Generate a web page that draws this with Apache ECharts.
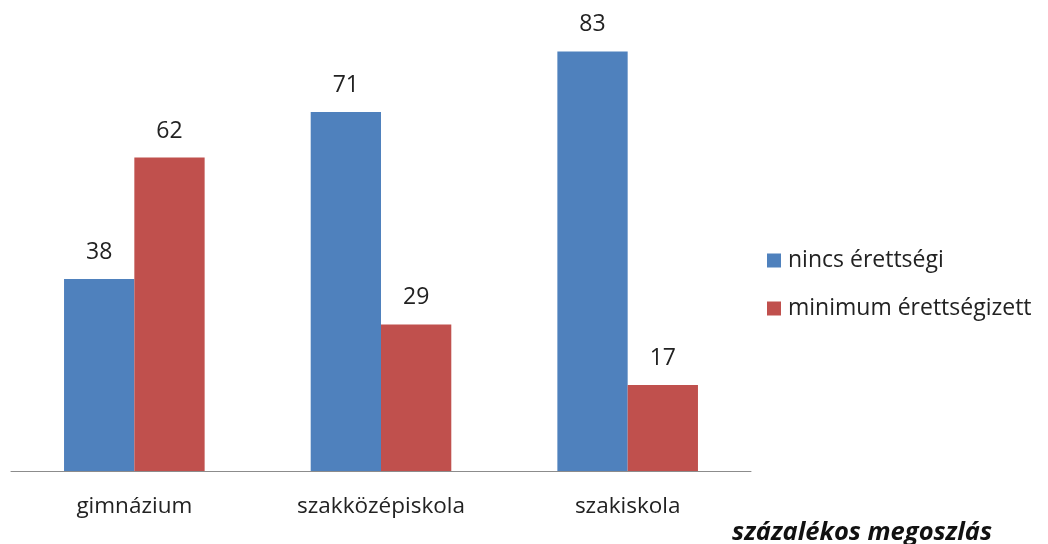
<!DOCTYPE html>
<html>
<head>
<meta charset="utf-8">
<script src="https://cdn.jsdelivr.net/npm/echarts@6.0.0/dist/echarts.min.js"></script>
<style>
  html, body { margin: 0; padding: 0; background: #fff; }
  #chart { width: 1048px; height: 544px; }
</style>
</head>
<body>
<div id="chart"></div>
<script>
const categories = ['gimnázium', 'szakközépiskola', 'szakiskola']
const nincsErettsegi = [38, 71, 83]
const minimumErettsegizett = [62, 29, 17]

const font = '"Open Sans", "Noto Sans", sans-serif'

const chart = echarts.init(document.getElementById('chart'))

const labelStyle = {
  show: true,
  position: 'top',
  distance: 15,
  fontSize: 23,
  fontFamily: font,
  color: '#222',
}

chart.setOption({
  animation: false,
  title: {
    text: 'százalékos megoszlás',
    right: 51,
    bottom: -7,
    textStyle: {
      fontSize: 25.5,
      fontStyle: 'italic',
      fontWeight: 'bold',
      fontFamily: font,
      color: '#111',
    },
  },
  legend: {
    orient: 'vertical',
    left: 762,
    top: 244,
    itemWidth: 14,
    itemHeight: 14,
    itemGap: 25,
    icon: 'rect',
    textStyle: {
      fontSize: 23,
      fontFamily: font,
      color: '#222',
      padding: [0, 0, 0, 2],
    },
  },
  grid: {
    left: 11,
    right: 297,
    top: 16,
    bottom: 73,
  },
  xAxis: {
    type: 'category',
    data: categories,
    axisTick: { show: false },
    axisLine: { lineStyle: { color: '#8c8c8c', width: 1 } },
    axisLabel: {
      margin: 24,
      fontSize: 22.5,
      fontFamily: font,
      color: '#222',
    },
  },
  yAxis: {
    type: 'value',
    min: 0,
    max: 90,
    show: false,
    splitLine: { show: false },
  },
  series: [
    {
      name: 'nincs érettségi',
      type: 'bar',
      data: nincsErettsegi,
      barGap: '0%',
      barCategoryGap: '43%',
      itemStyle: { color: '#4F81BD' },
      label: labelStyle,
    },
    {
      name: 'minimum érettségizett',
      type: 'bar',
      data: minimumErettsegizett,
      itemStyle: { color: '#C0504D' },
      label: labelStyle,
    },
  ],
})
</script>
</body>
</html>
